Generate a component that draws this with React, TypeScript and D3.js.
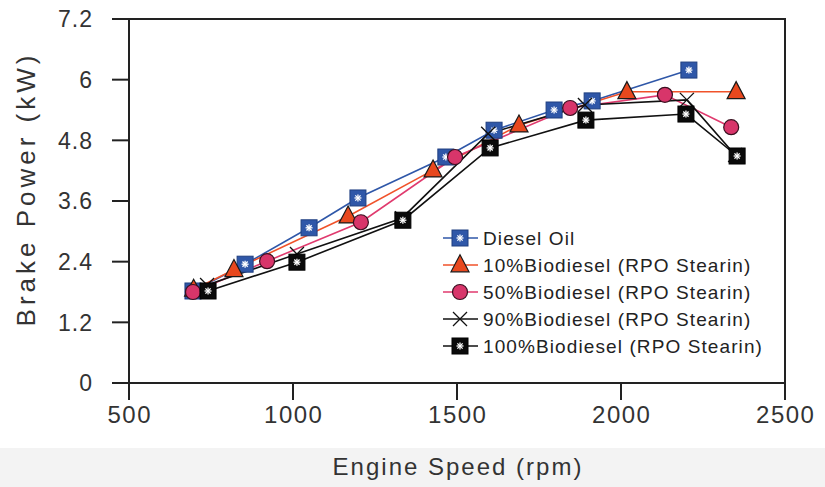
import React from "react";
import * as d3 from "d3";

const xTicks = [500, 1000, 1500, 2000, 2500];
const yTicks = [0, 1.2, 2.4, 3.6, 4.8, 6, 7.2];
const yTickLabels = ["0", "1.2", "2.4", "3.6", "4.8", "6", "7.2"];

const dieselX = [695, 854, 1049, 1198, 1466, 1613, 1796, 1912, 2207];
const dieselY = [1.82, 2.35, 3.07, 3.66, 4.47, 5.0, 5.4, 5.58, 6.19];

const b10X = [697, 820, 1168, 1427, 1689, 2018, 2351];
const b10Y = [1.85, 2.24, 3.3, 4.21, 5.1, 5.76, 5.76];

const b50X = [695, 921, 1207, 1494, 1845, 2134, 2336];
const b50Y = [1.8, 2.41, 3.18, 4.47, 5.44, 5.7, 5.06];

const b90X = [738, 1012, 1332, 1595, 1890, 2201, 2348];
const b90Y = [1.94, 2.55, 3.26, 4.93, 5.5, 5.6, 4.51];

const b100X = [741, 1012, 1335, 1601, 1893, 2198, 2354];
const b100Y = [1.82, 2.39, 3.22, 4.65, 5.2, 5.32, 4.49];

const seriesNames = [
  "Diesel Oil",
  "10%Biodiesel (RPO Stearin)",
  "50%Biodiesel (RPO Stearin)",
  "90%Biodiesel (RPO Stearin)",
  "100%Biodiesel (RPO Stearin)",
];

type Kind = "bsq" | "tri" | "circ" | "x" | "ksq";
const series: { name: string; xs: number[]; ys: number[]; color: string; kind: Kind }[] = [
  { name: seriesNames[0], xs: dieselX, ys: dieselY, color: "#2f57a8", kind: "bsq" },
  { name: seriesNames[1], xs: b10X, ys: b10Y, color: "#f0522a", kind: "tri" },
  { name: seriesNames[2], xs: b50X, ys: b50Y, color: "#e03a6e", kind: "circ" },
  { name: seriesNames[3], xs: b90X, ys: b90Y, color: "#111111", kind: "x" },
  { name: seriesNames[4], xs: b100X, ys: b100Y, color: "#111111", kind: "ksq" },
];

const L = 129, R = 785, T = 19, B = 383;
const FONT = "Arial, 'Liberation Sans', sans-serif";

function Asterisk({ cx, cy }: { cx: number; cy: number }) {
  const r = 3.5;
  return (
    <g stroke="#fff" strokeWidth={1.3}>
      <line x1={cx - r} y1={cy} x2={cx + r} y2={cy} />
      <line x1={cx} y1={cy - r} x2={cx} y2={cy + r} />
      <line x1={cx - r * 0.75} y1={cy - r * 0.75} x2={cx + r * 0.75} y2={cy + r * 0.75} />
      <line x1={cx - r * 0.75} y1={cy + r * 0.75} x2={cx + r * 0.75} y2={cy - r * 0.75} />
    </g>
  );
}

function Marker({ kind, cx, cy }: { kind: Kind; cx: number; cy: number }) {
  if (kind === "bsq" || kind === "ksq") {
    const s = 16;
    return (
      <g>
        <rect x={cx - s / 2} y={cy - s / 2} width={s} height={s}
          fill={kind === "bsq" ? "#2f57a8" : "#0a0a0a"} stroke={kind === "bsq" ? "#1f3f80" : "#000"} strokeWidth={1} />
        <Asterisk cx={cx} cy={cy} />
      </g>
    );
  }
  if (kind === "tri") {
    const h = 17, w = 18;
    const p = `${cx},${cy - h * 0.6} ${cx + w / 2},${cy + h * 0.4} ${cx - w / 2},${cy + h * 0.4}`;
    return <polygon points={p} fill="#e8481e" stroke="#1a1a1a" strokeWidth={1.2} />;
  }
  if (kind === "circ") {
    return <circle cx={cx} cy={cy} r={7.5} fill="#d8356a" stroke="#3a1020" strokeWidth={1.2} />;
  }
  const r = 7;
  return (
    <g stroke="#111" strokeWidth={1.3}>
      <line x1={cx - r} y1={cy - r} x2={cx + r} y2={cy + r} />
      <line x1={cx - r} y1={cy + r} x2={cx + r} y2={cy - r} />
    </g>
  );
}

export default function App() {
  const x = d3.scaleLinear().domain([500, 2500]).range([L, R]);
  const y = d3.scaleLinear().domain([0, 7.2]).range([B, T]);
  const line = d3.line<[number, number]>().x((d) => x(d[0])).y((d) => y(d[1]));

  const legendX = 443, legendY0 = 238, legendDy = 27;

  return (
    <svg width={825} height={487} style={{ position: "absolute", left: 0, top: 0, background: "#fff" }}
      fontFamily={FONT}>
      <rect x={0} y={0} width={825} height={487} fill="#fff" />
      <rect x={0} y={448} width={825} height={39} fill="#f3f3f3" />
      {/* frame */}
      <rect x={L} y={T} width={R - L} height={B - T} fill="none" stroke="#222" strokeWidth={2} />
      {/* y ticks */}
      {yTicks.map((t, i) => (
        <g key={"y" + i}>
          <line x1={L - 17} x2={L} y1={y(t)} y2={y(t)} stroke="#222" strokeWidth={2} />
          <text x={93} y={y(t)} dy="0.36em" textAnchor="end" fontSize={23} letterSpacing={1} fill="#333">{yTickLabels[i]}</text>
        </g>
      ))}
      {xTicks.map((t, i) => (
        <g key={"x" + i}>
          <line x1={x(t)} x2={x(t)} y1={B} y2={B + 17} stroke="#222" strokeWidth={2} />
          <text x={x(t) + 0.75} y={414} dy="0.36em" textAnchor="middle" fontSize={24} letterSpacing={1.5} fill="#333">{t}</text>
        </g>
      ))}
      <text x={458} y={466} dy="0.36em" textAnchor="middle" fontSize={24} letterSpacing={2} fill="#333">Engine Speed (rpm)</text>
      <text transform={`translate(26,${189}) rotate(-90)`} dy="0.36em" textAnchor="middle" fontSize={26} letterSpacing={4} fill="#333">
        Brake Power (kW)
      </text>
      {/* series lines */}
      {series.map((s, i) => (
        <path key={"l" + i} d={line(s.xs.map((v, j) => [v, s.ys[j]] as [number, number])) || ""}
          fill="none" stroke={s.color} strokeWidth={1.6} />
      ))}
      {series.map((s, i) => (
        <g key={"m" + i}>
          {s.xs.map((v, j) => (
            <Marker key={j} kind={s.kind} cx={x(v)} cy={y(s.ys[j])} />
          ))}
        </g>
      ))}
      {/* legend */}
      {series.map((s, i) => {
        const ly = legendY0 + i * legendDy;
        return (
          <g key={"lg" + i}>
            <line x1={legendX} x2={legendX + 35} y1={ly} y2={ly} stroke={s.color} strokeWidth={1.6} />
            <Marker kind={s.kind} cx={legendX + 17} cy={ly} />
            <text x={legendX + 40} y={ly} dy="0.36em" fontSize={19} letterSpacing={1.1} fill="#222">{s.name}</text>
          </g>
        );
      })}
    </svg>
  );
}
